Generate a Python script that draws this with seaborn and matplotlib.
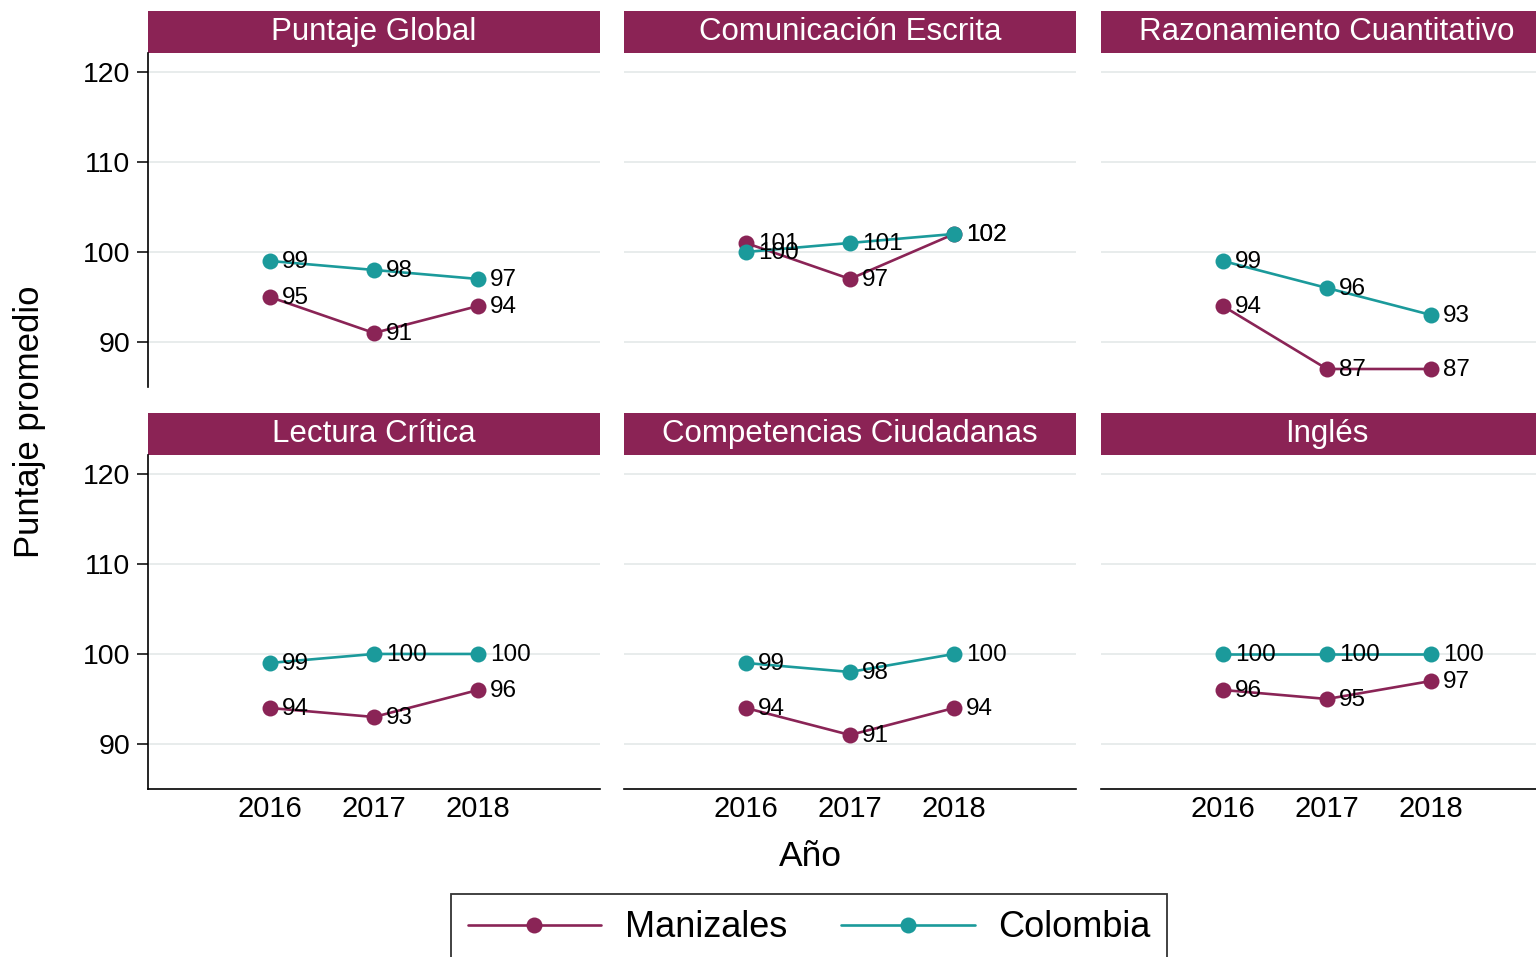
import pandas as pd
import matplotlib
matplotlib.use("Agg")
import matplotlib.pyplot as plt
import seaborn as sns
from matplotlib.patches import Rectangle

# data
years = [2016, 2017, 2018]
pruebas = ["Puntaje Global", "Comunicación Escrita", "Razonamiento Cuantitativo",
           "Lectura Crítica", "Competencias Ciudadanas", "Inglés"]
manizales = [[95, 91, 94], [101, 97, 102], [94, 87, 87],
             [94, 93, 96], [94, 91, 94], [96, 95, 97]]
colombia = [[99, 98, 97], [100, 101, 102], [99, 96, 93],
            [99, 100, 100], [99, 98, 100], [100, 100, 100]]
lugares = ["Manizales", "Colombia"]

MAROON = "#8a2456"
TEAL = "#1b9a9b"
HEADER = "#8b2355"
palette = {"Manizales": MAROON, "Colombia": TEAL}

rows = []
for i, p in enumerate(pruebas):
    for lugar, serie in zip(lugares, [manizales, colombia]):
        for y, v in zip(years, serie[i]):
            rows.append({"prueba": p, "lugar": lugar, "anio": y, "puntaje": v})
df = pd.DataFrame(rows)

sns.set_style("white")
plt.rcParams["font.family"] = ["Liberation Sans", "DejaVu Sans"]
plt.rcParams["text.color"] = "black"
plt.rcParams["xtick.color"] = "black"
plt.rcParams["ytick.color"] = "black"

g = sns.FacetGrid(df, col="prueba", col_wrap=3, col_order=pruebas,
                  sharex=False, sharey=False, height=4, aspect=1.3)
g.map_dataframe(sns.lineplot, x="anio", y="puntaje", hue="lugar",
                hue_order=lugares, palette=palette, marker="o",
                markersize=11.5, markeredgewidth=0, linewidth=1.9)
fig = g.figure
fig.set_size_inches(15.36, 9.57)
fig.set_dpi(100)

W, H = 1536, 957
lefts = [148, 624, 1101]
pw = 452
tops = [53, 455]
ph = 334
hdr = 42

for k, ax in enumerate(g.axes.flat):
    r, c = divmod(k, 3)
    ax.set_position([lefts[c] / W, 1 - (tops[r] + ph) / H, pw / W, ph / H])
    ax.set_xlim(2014.83, 2019.17)
    ax.set_ylim(85, 122.1)
    ax.set_yticks([90, 100, 110, 120])
    ax.set_xticks(years)
    ax.set_xlabel("")
    ax.set_ylabel("")
    ax.set_title("")
    ax.grid(axis="y", color="#e6eaea", linewidth=1.3)
    ax.grid(axis="x", visible=False)
    ax.set_axisbelow(True)
    if ax.get_legend():
        ax.get_legend().remove()
    for s in ax.spines.values():
        s.set_visible(False)
        s.set_linewidth(1.2)
        s.set_color("black")
    if c == 0:
        ax.spines["left"].set_visible(True)
        ax.tick_params(axis="y", length=8, width=1.1, pad=5, labelsize=20.5,
                       left=True, labelleft=True)
    else:
        ax.tick_params(axis="y", length=0, labelleft=False)
    if r == 1:
        ax.spines["bottom"].set_visible(True)
        ax.tick_params(axis="x", length=0, pad=4, labelsize=21, labelbottom=True)
    else:
        ax.tick_params(axis="x", length=0, labelbottom=False)

    # value labels to the right of each marker
    for serie in [manizales, colombia]:
        for y, v in zip(years, serie[k]):
            ax.annotate(str(v), (y, v), xytext=(8.5, -1), textcoords="offset points",
                        va="center", ha="left", fontsize=17.5, color="black")

    # panel header
    hh = hdr / ph
    ax.add_patch(Rectangle((0, 1), 1, hh, transform=ax.transAxes,
                           facecolor=HEADER, edgecolor="none", clip_on=False))
    ax.text(0.5, 1 + hh / 2, pruebas[k], transform=ax.transAxes, ha="center",
            va="center", color="white", fontsize=22.5)

fig.text(30 / W, 1 - 422 / H, "Puntaje promedio", rotation=90, ha="center",
         va="center", fontsize=25)
fig.text(810 / W, 1 - 857 / H, "Año", ha="center", va="center", fontsize=25.5)

handles = [plt.Line2D([], [], color=palette[l], marker="o", markersize=11.5,
                      markeredgewidth=0, linewidth=1.9) for l in lugares]
leg = fig.legend(handles, lugares, loc="upper center", ncol=2,
                 bbox_to_anchor=(809 / W, 1 - 894 / H), fontsize=26,
                 frameon=True, fancybox=False, edgecolor="black",
                 handlelength=3.7, handletextpad=0.65, columnspacing=1.5,
                 borderpad=0.45, borderaxespad=0)
leg.get_frame().set_linewidth(1.3)

fig.savefig("out.png", dpi=100)
